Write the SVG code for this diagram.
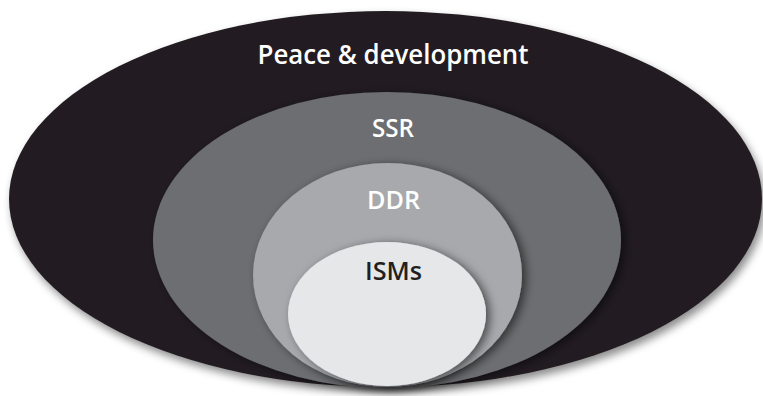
<svg xmlns="http://www.w3.org/2000/svg" width="763" height="396" viewBox="0 0 763 396">
<defs>
<filter id="outerShadow" x="-10%" y="-10%" width="120%" height="125%">
<feDropShadow dx="3" dy="5" stdDeviation="4" flood-color="#000" flood-opacity="0.45"/>
</filter>
<filter id="innerShadow" x="-10%" y="-10%" width="125%" height="125%">
<feDropShadow dx="4" dy="2" stdDeviation="5" flood-color="#000" flood-opacity="0.55"/>
</filter>
<style>
.lbl{font-family:"Open Sans","Noto Sans","Liberation Sans",sans-serif;text-anchor:middle;font-weight:600;}
.light{fill:#ffffff;}
.dark{fill:#231f20;}
</style>
</defs>
<rect width="763" height="396" fill="#ffffff"/>
<g id="peace">
<ellipse cx="385.5" cy="199" rx="376.5" ry="188" fill="#231f20" filter="url(#outerShadow)"/>
<text class="lbl light" x="393" y="64" font-size="27" textLength="271" lengthAdjust="spacingAndGlyphs">Peace &amp; development</text>
</g>
<g id="ssr">
<ellipse cx="387" cy="240" rx="234" ry="148" fill="#6d6e71" filter="url(#innerShadow)"/>
<text class="lbl light" x="393" y="137" font-size="25" textLength="42" lengthAdjust="spacingAndGlyphs">SSR</text>
</g>
<g id="ddr">
<ellipse cx="387.5" cy="275" rx="134.5" ry="112" fill="#a7a9ac" filter="url(#innerShadow)"/>
<text class="lbl light" x="393.5" y="209" font-size="26" textLength="53" lengthAdjust="spacingAndGlyphs">DDR</text>
</g>
<g id="isms">
<ellipse cx="387" cy="314" rx="99" ry="72" fill="#e6e7e8" filter="url(#innerShadow)"/>
<text class="lbl dark" x="393.5" y="280" font-size="26" textLength="57" lengthAdjust="spacingAndGlyphs">ISMs</text>
</g>
<g id="connectors"></g>
</svg>
